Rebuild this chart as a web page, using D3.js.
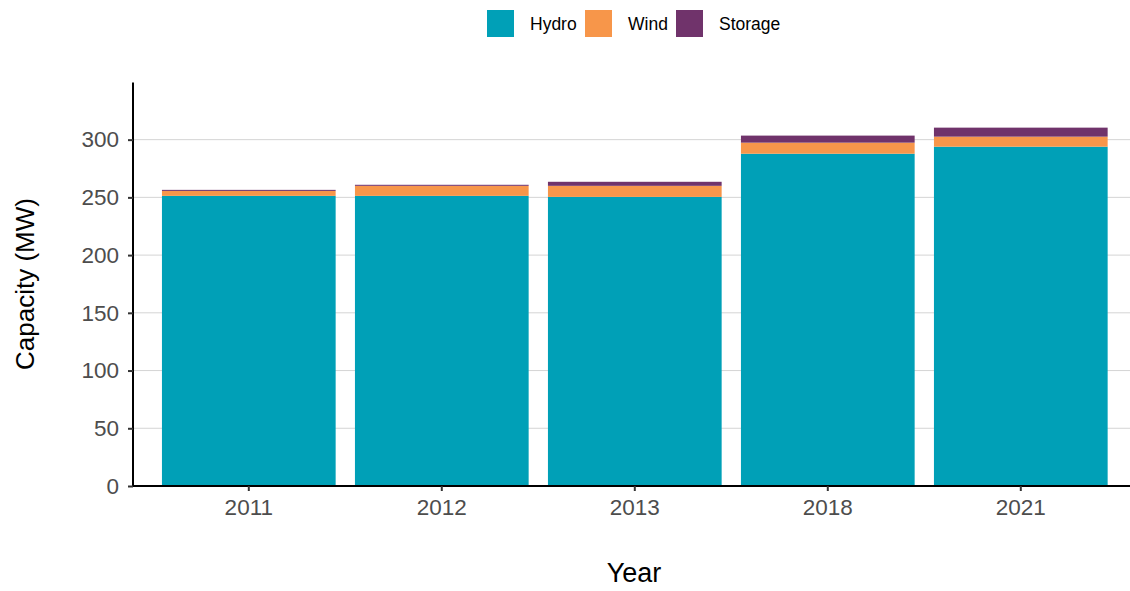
<!DOCTYPE html>
<html>
<head>
<meta charset="utf-8">
<script src="https://cdn.jsdelivr.net/npm/d3@7"></script>
<style>
  body { margin: 0; background: #fff; font-family: "Liberation Sans", Arial, sans-serif; }
</style>
</head>
<body>
<div id="wrapper"></div>
<script>
const years = ["2011", "2012", "2013", "2018", "2021"];
const hydro = [251.3, 251.3, 250.4, 287.8, 293.9];
const wind = [4.3, 8.7, 9.6, 9.6, 8.7];
const storage = [0.9, 0.9, 3.5, 6.1, 7.8];
const seriesNames = ["Hydro", "Wind", "Storage"];
const seriesColors = ["#00A0B7", "#F7964A", "#70336B"];
const yTicks = [0, 50, 100, 150, 200, 250, 300];

const W = 1130, H = 591;
const svg = d3.select("#wrapper").append("svg").attr("width", W).attr("height", H);

const x = d3.scaleBand().domain(years).range([133, 1136.6]).paddingInner(0.1).paddingOuter(0.15);
const y = d3.scaleLinear().domain([0, 349.5]).range([486, 82.5]);

// stack data
const table = years.map((yr, i) => ({year: yr, Hydro: hydro[i], Wind: wind[i], Storage: storage[i]}));
const stacked = d3.stack().keys(seriesNames)(table);
const color = d3.scaleOrdinal().domain(seriesNames).range(seriesColors);

// gridlines
svg.append("g").selectAll("line").data(yTicks.filter(d => d > 0)).enter().append("line")
  .attr("x1", 133).attr("x2", W)
  .attr("y1", d => y(d)).attr("y2", d => y(d))
  .attr("stroke", "#d4d4d4").attr("stroke-width", 1);

// bars
svg.append("g").selectAll("g").data(stacked).enter().append("g")
  .attr("fill", d => color(d.key))
  .selectAll("rect").data(d => d).enter().append("rect")
  .attr("x", d => x(d.data.year))
  .attr("width", x.bandwidth())
  .attr("y", d => y(d[1]))
  .attr("height", d => y(d[0]) - y(d[1]));

// axes
const yAxis = svg.append("g").attr("transform", "translate(133,0)")
  .call(d3.axisLeft(y).tickValues(yTicks).tickSize(5).tickPadding(9));
yAxis.select(".domain").attr("d", "M0," + y.range()[1] + "V" + y(0)).attr("stroke", "#000").attr("stroke-width", 2);
yAxis.selectAll(".tick line").attr("stroke", "#333").attr("stroke-width", 2);
yAxis.selectAll(".tick text").attr("fill", "#4d4d4d").style("font-size", "22.5px").style("font-family", "Liberation Sans, Arial, sans-serif");

const xAxis = svg.append("g").attr("transform", "translate(0,486)")
  .call(d3.axisBottom(x).tickSize(5).tickPadding(8));
xAxis.select(".domain").attr("d", "M133,0H" + W).attr("stroke", "#000").attr("stroke-width", 2);
xAxis.selectAll(".tick line").attr("stroke", "#333").attr("stroke-width", 2);
xAxis.selectAll(".tick text").attr("fill", "#4d4d4d").style("font-size", "22.5px").style("font-family", "Liberation Sans, Arial, sans-serif");

// axis titles
svg.append("text").attr("x", 634).attr("y", 582).attr("text-anchor", "middle")
  .style("font-size", "27px").attr("fill", "#000").text("Year");
svg.append("text").attr("transform", "translate(34,284) rotate(-90)").attr("text-anchor", "middle")
  .style("font-size", "26px").attr("fill", "#000").text("Capacity (MW)");

// legend
const legendX = [487, 585, 676];
const legend = svg.append("g").selectAll("g").data(seriesNames).enter().append("g")
  .attr("transform", (d, i) => "translate(" + legendX[i] + ",10)");
legend.append("rect").attr("width", 27).attr("height", 27).attr("fill", d => color(d));
legend.append("text").attr("x", 43).attr("y", 19.5).style("font-size", "17.5px").attr("fill", "#000").text(d => d);
</script>
</body>
</html>
